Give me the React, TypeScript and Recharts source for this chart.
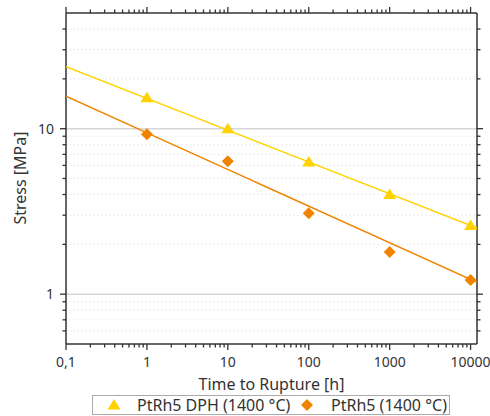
import React from 'react';
import { ScatterChart, Scatter, XAxis, YAxis, ReferenceLine } from 'recharts';

// measured points (time to rupture [h] -> stress [MPa])
const hours = [1, 10, 100, 1000, 10000];
const dphStress = [15.4, 10, 6.3, 4.0, 2.6];
const ptStress = [9.25, 6.35, 3.08, 1.8, 1.22];

// fitted power-law lines, drawn across the whole axis range
const fitHours = [0.1, 12000];
const dphFit = [23.7, 2.51];
const ptFit = [15.7, 1.18];

const xMajor = [0.1, 1, 10, 100, 1000, 10000];
const xMinor = [
  0.2, 0.3, 0.4, 0.5, 0.6, 0.7, 0.8, 0.9,
  2, 3, 4, 5, 6, 7, 8, 9,
  20, 30, 40, 50, 60, 70, 80, 90,
  200, 300, 400, 500, 600, 700, 800, 900,
  2000, 3000, 4000, 5000, 6000, 7000, 8000, 9000,
];
const yMajor = [1, 10];
const yMinor = [0.6, 0.7, 0.8, 0.9, 2, 3, 4, 5, 6, 7, 8, 9, 20, 30, 40];

const YELLOW = '#ffd200';
const ORANGE = '#f08400';
const FONT = '"Noto Sans", "DejaVu Sans", sans-serif';

const pts = (xs: number[], ys: number[]) => xs.map((x, i) => ({ x, y: ys[i] }));

const fmt = (v: number) => String(v).replace('.', ',');

const Triangle = (props: any) => {
  const { cx, cy } = props;
  return <polygon points={`${cx},${cy - 6} ${cx + 6.5},${cy + 4.5} ${cx - 6.5},${cy + 4.5}`} fill={YELLOW} />;
};

const Diamond = (props: any) => {
  const { cx, cy } = props;
  return <polygon points={`${cx},${cy - 6} ${cx + 6},${cy} ${cx},${cy + 6} ${cx - 6},${cy}`} fill={ORANGE} />;
};

const NoDot = () => <g />;

const makeTick = (side: 'left' | 'right' | 'top' | 'bottom', labels: boolean) => (props: any) => {
  const { x, y, payload } = props;
  const v = payload.value;
  const major = side === 'left' || side === 'right' ? yMajor.includes(v) : xMajor.includes(v);
  const len = major ? 6 : 3.5;
  let line;
  if (side === 'left') line = <line x1={x - len} x2={x} y1={y} y2={y} stroke="#333" strokeWidth={1.3} />;
  else if (side === 'right') line = <line x1={x} x2={x + len} y1={y} y2={y} stroke="#333" strokeWidth={1.3} />;
  else if (side === 'top') line = <line x1={x} x2={x} y1={y - len} y2={y} stroke="#333" strokeWidth={1.3} />;
  else line = <line x1={x} x2={x} y1={y} y2={y + len} stroke="#333" strokeWidth={1.3} />;
  return (
    <g>
      {line}
      {labels && major && side === 'left' && (
        <text x={x - 12} y={y + 5} textAnchor="end" fontSize={14} fill="#333" fontFamily={FONT}>{fmt(v)}</text>
      )}
      {labels && major && side === 'bottom' && (
        <text x={x} y={y + 23} textAnchor="middle" fontSize={14} fill="#333" fontFamily={FONT}>{fmt(v)}</text>
      )}
    </g>
  );
};

export default function App() {
  const xTicks = [...xMajor, ...xMinor];
  const yTicks = [...yMajor, ...yMinor];
  return (
    <div style={{ position: 'absolute', left: 0, top: 0, width: 490, height: 416, fontFamily: FONT, color: '#333' }}>
      <ScatterChart width={490} height={416} margin={{ top: 5, right: 5, bottom: 42, left: 16 }}>
        <XAxis
          xAxisId="bottom"
          dataKey="x"
          type="number"
          scale="log"
          domain={[0.1, 12000]}
          allowDataOverflow
          ticks={xTicks}
          interval={0}
          tickSize={0}
          tickMargin={0}
          tickLine={false}
          height={30}
          axisLine={{ stroke: '#333', strokeWidth: 1.5 }}
          tick={makeTick('bottom', true)}
        />
        <XAxis
          xAxisId="top"
          orientation="top"
          dataKey="x"
          type="number"
          scale="log"
          domain={[0.1, 12000]}
          allowDataOverflow
          ticks={xTicks}
          interval={0}
          tickSize={0}
          tickMargin={0}
          tickLine={false}
          height={8}
          axisLine={{ stroke: '#333', strokeWidth: 1.5 }}
          tick={makeTick('top', false)}
        />
        <YAxis
          yAxisId="left"
          dataKey="y"
          type="number"
          scale="log"
          domain={[0.5, 50]}
          allowDataOverflow
          ticks={yTicks}
          interval={0}
          tickSize={0}
          tickMargin={0}
          tickLine={false}
          width={50}
          axisLine={{ stroke: '#333', strokeWidth: 1.5 }}
          tick={makeTick('left', true)}
        />
        <YAxis
          yAxisId="right"
          orientation="right"
          dataKey="y"
          type="number"
          scale="log"
          domain={[0.5, 50]}
          allowDataOverflow
          ticks={yTicks}
          interval={0}
          tickSize={0}
          tickMargin={0}
          tickLine={false}
          width={8}
          axisLine={{ stroke: '#333', strokeWidth: 1.5 }}
          tick={makeTick('right', false)}
        />
        {yMinor.map((v) => (
          <ReferenceLine key={'m' + v} y={v} xAxisId="bottom" yAxisId="left" stroke="#d9d9d9" strokeDasharray="1 3" />
        ))}
        {yMajor.map((v) => (
          <ReferenceLine key={'M' + v} y={v} xAxisId="bottom" yAxisId="left" stroke="#d6d6d6" strokeWidth={1.5} />
        ))}
        <Scatter
          xAxisId="bottom"
          yAxisId="left"
          data={pts(fitHours, dphFit)}
          line={{ stroke: YELLOW, strokeWidth: 1.5 }}
          shape={NoDot}
          isAnimationActive={false}
        />
        <Scatter
          xAxisId="bottom"
          yAxisId="left"
          data={pts(fitHours, ptFit)}
          line={{ stroke: ORANGE, strokeWidth: 1.5 }}
          shape={NoDot}
          isAnimationActive={false}
        />
        <Scatter xAxisId="bottom" yAxisId="left" data={pts(hours, dphStress)} shape={Triangle} isAnimationActive={false} />
        <Scatter xAxisId="bottom" yAxisId="left" data={pts(hours, ptStress)} shape={Diamond} isAnimationActive={false} />
      </ScatterChart>

      <div style={{ position: 'absolute', left: 0, top: 373, width: 543, textAlign: 'center', fontSize: 16 }}>
        Time to Rupture [h]
      </div>
      <div
        style={{
          position: 'absolute',
          left: 20,
          top: 178,
          transform: 'translate(-50%, -50%) rotate(-90deg)',
          whiteSpace: 'nowrap',
          fontSize: 16,
        }}
      >
        Stress [MPa]
      </div>
      <div
        style={{
          position: 'absolute',
          left: 92,
          top: 395,
          width: 356,
          height: 18,
          border: '1px solid #aaa',
          fontSize: 16,
          lineHeight: '18px',
          whiteSpace: 'nowrap',
        }}
      >
        <svg width={14} height={12} style={{ position: 'absolute', left: 14, top: 3 }}>
          <polygon points="7,0 13.5,10.5 0.5,10.5" fill={YELLOW} />
        </svg>
        <span style={{ position: 'absolute', left: 44 }}>PtRh5 DPH (1400 °C)</span>
        <svg width={12} height={12} style={{ position: 'absolute', left: 208, top: 3 }}>
          <polygon points="6,0 12,6 6,12 0,6" fill={ORANGE} />
        </svg>
        <span style={{ position: 'absolute', left: 238 }}>PtRh5 (1400 °C)</span>
      </div>
    </div>
  );
}
